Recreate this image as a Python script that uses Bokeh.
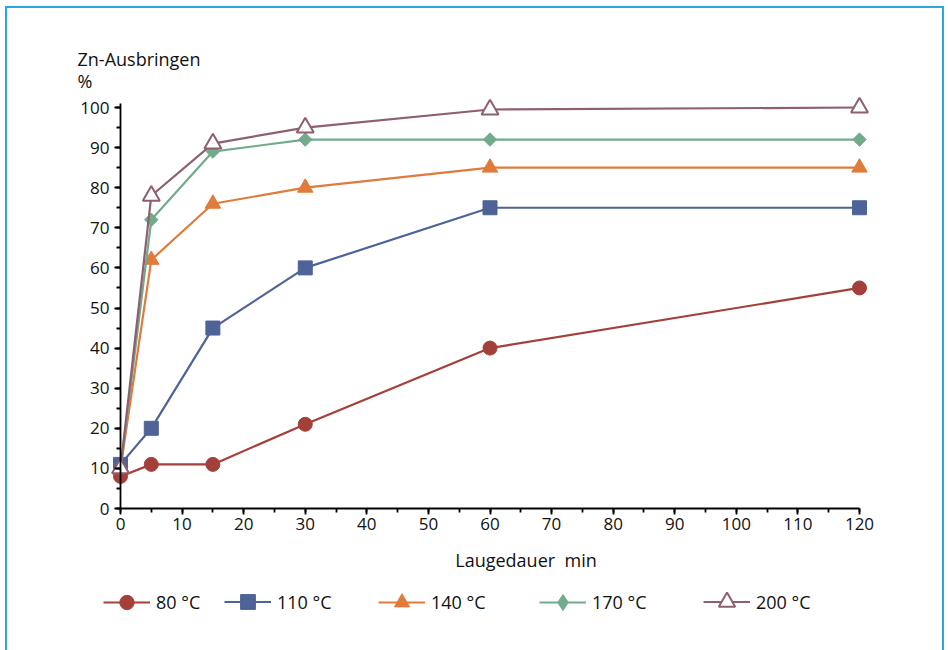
import numpy as np
from bokeh.plotting import figure
from bokeh.models import (Range1d, SingleIntervalTicker, Legend, LegendItem, Label)
from bokeh.embed import file_html
from bokeh.resources import INLINE

# ---- data ----
time_min = [0, 5, 15, 30, 60, 120]
y_80 = [8, 11, 11, 21, 40, 55]
y_110 = [11, 20, 45, 60, 75, 75]
y_140 = [10, 62, 76, 80, 85, 85]
y_170 = [10, 72, 89, 92, 92, 92]
y_200 = [10, 78, 91, 95, 99.5, 100]
series_labels = ["80 °C", "110 °C", "140 °C", "170 °C", "200 °C"]
x_label = "Laugedauer\u00a0 min"
y_label_1 = "Zn-Ausbringen"
y_label_2 = "%"

FONT = "Open Sans"
FS_TICK = "17px"
FS = "18px"
TXT = "#111111"

# layout geometry (page pixels)
OX, OY = 7, 8              # content origin (margin + border)
FL, FR, FT, FB = 67, 942, 8, 622   # frame edges
X0, X120 = 120, 859        # pixel of x=0 and x=120
Y0, Y100 = 508, 107        # pixel of y=0 and y=100
sx = (X120 - X0) / 120.0
sy = (Y0 - Y100) / 100.0

x_start = (FL - X0) / sx
x_end = (FR - X0) / sx
y_start = -(FB - Y0) / sy
y_end = (Y0 - FT) / sy

p = figure(frame_width=FR - FL, frame_height=FB - FT,
           min_border_left=FL - OX, min_border_top=FT - OY, min_border_right=0,
           min_border_bottom=650 - FB,
           x_range=Range1d(x_start, x_end), y_range=Range1d(y_start, y_end),
           output_backend="svg", toolbar_location=None)
p.margin = (6, 0, 0, 5)
p.styles = {"border-top": "2px solid #2AA7E1", "border-left": "2px solid #2AA7E1",
            "border-right": "2px solid #2AA7E1"}
p.outline_line_color = None
p.grid.visible = False
p.background_fill_color = "white"

for ax, b in ((p.xaxis[0], (0, 120)), (p.yaxis[0], (0, 101))):
    ax.ticker = SingleIntervalTicker(interval=10, num_minor_ticks=2)
    ax.bounds = b
    ax.fixed_location = 0
    ax.axis_line_color = "black"
    ax.axis_line_width = 1.8
    ax.major_tick_line_color = "black"
    ax.minor_tick_line_color = "black"
    ax.major_tick_line_width = 1.8
    ax.minor_tick_line_width = 1.8
    ax.major_tick_out = 6
    ax.major_tick_in = 0
    ax.minor_tick_out = 4
    ax.minor_tick_in = 0
    ax.major_label_text_font = FONT
    ax.major_label_text_font_size = FS_TICK
    ax.major_label_text_color = TXT
    ax.major_label_standoff = 5
p.xaxis[0].major_label_standoff = 3

colors = ["#A3403A", "#4E6397", "#E07B3B", "#72AB8C", "#8E5F6F"]
ys = [y_80, y_110, y_140, y_170, y_200]
markers = ["circle", "square", "triangle", "square", "triangle"]
sizes = [14, 14, 15.5, 9.5, 17]
angles = [0, 0, 0, np.pi / 4, 0]
fills = colors[:4] + ["white"]
lws = [1, 1, 1, 1, 2]

renderers = []
for c, y, m, s, a, f, lw in zip(colors, ys, markers, sizes, angles, fills, lws):
    rl = p.line(time_min, y, line_color=c, line_width=2.2)
    rm = p.scatter(time_min, y, marker=m, size=s, angle=a, fill_color=f,
                   line_color=c, line_width=lw)
    renderers.append([rl, rm])

# legend-only diamond for 170 °C (legend glyphs ignore marker angle)
r_dia = p.scatter(time_min, y_170, marker="diamond", size=14, fill_color=colors[3],
                  line_color=colors[3], visible=False)
renderers[3] = [renderers[3][0], r_dia]

# legends (one per item to reproduce the irregular spacing)
leg_px = [103, 224, 378, 539, 703]
leg_gh = [36, 37, 38, 40, 41]
LEG_CY = 601.5
for lab, rs, lx, gh in zip(series_labels, renderers, leg_px, leg_gh):
    leg = Legend(items=[LegendItem(label=lab, renderers=rs)],
                 location=(lx - FL, FB - (LEG_CY + gh / 2.0)),
                 orientation="horizontal", border_line_alpha=0, background_fill_alpha=0,
                 glyph_width=47, glyph_height=gh, label_standoff=6, padding=0, margin=0,
                 label_text_font=FONT, label_text_font_size=FS, label_height=gh,
                 label_text_color=TXT)
    p.add_layout(leg, "center")

p.add_layout(Label(x=(77 - X0) / sx, y=(Y0 - 58) / sy, text=y_label_1, text_font=FONT,
                   text_font_size=FS, text_align="left", text_baseline="alphabetic",
                   text_color=TXT))
p.add_layout(Label(x=(77 - X0) / sx, y=(Y0 - 80) / sy, text=y_label_2, text_font=FONT,
                   text_font_size=FS, text_align="left", text_baseline="alphabetic",
                   text_color=TXT))
p.add_layout(Label(x=(525.5 - X0) / sx, y=(Y0 - 559) / sy, text=x_label, text_font=FONT,
                   text_font_size=FS, text_align="center", text_baseline="alphabetic",
                   text_color=TXT))

open("out.html", "w").write(file_html(p, INLINE))
